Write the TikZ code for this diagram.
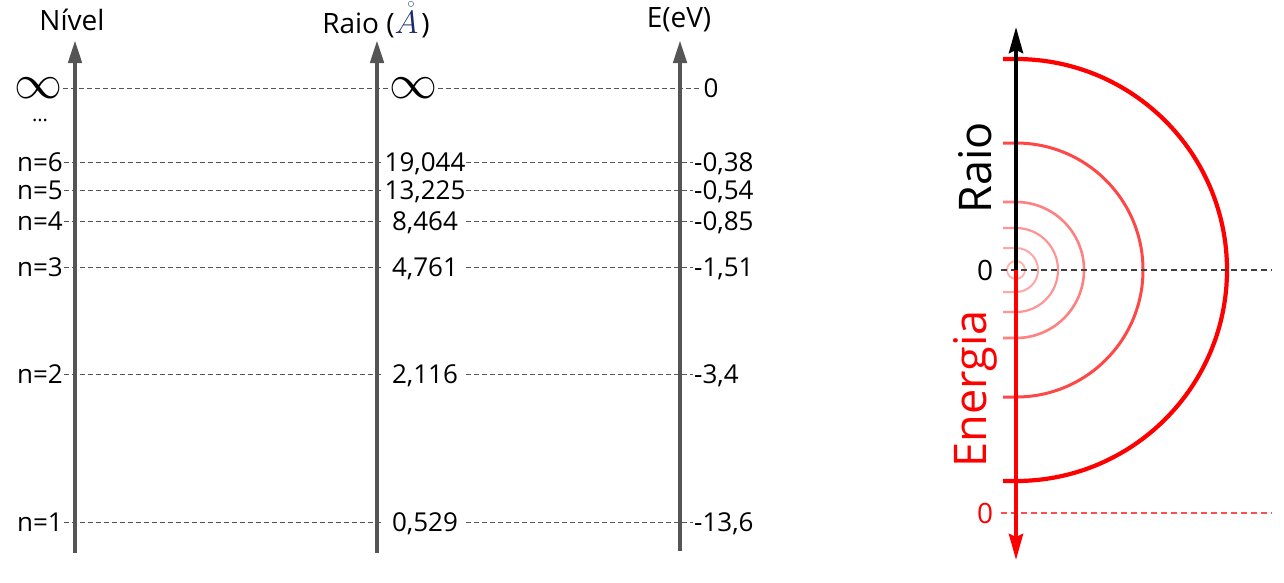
\documentclass[tikz,border=0pt]{standalone}
\usepackage{fontspec}
\setmainfont{Open Sans}
\usetikzlibrary{arrows.meta}
\definecolor{cinza}{HTML}{555555}
\definecolor{azulA}{HTML}{1A2A6E}
\newcommand{\infgrande}{\scalebox{4.8}{$\infty$}}
\begin{document}
\begin{tikzpicture}[x=1pt, y=-1pt, >=Stealth,
	eixo/.style={line width=4.5pt, color=cinza, -{Triangle[length=23pt, width=13pt]}},
	nivel/.style={dash pattern=on 5pt off 3pt, line width=1pt, color=cinza},
	rotulo/.style={font=\fontsize{26}{30}\selectfont, text height=18.5pt, text depth=0pt, inner sep=1pt},
	valor/.style={rotulo, minimum width=82pt, inner sep=0pt},
	titulo/.style={font=\fontsize{28}{32}\selectfont},
	grande/.style={font=\fontsize{45}{50}\selectfont, rotate=90}]
	\useasboundingbox (0,0) rectangle (1284,582);

	% Títulos das colunas
	\node[titulo] (tnivel) at (72,20) {Nível};
	\node[titulo] (traio) at (376,20) {Raio (\textcolor{azulA}{\scalebox{1.3}{$\mathring{A}$}}\kern3pt)};
	\node[titulo] (tenergia) at (679,20) {E(eV)};

	% Linha do infinito
	\node[inner sep=1pt] (ninf) at (38,88) {\infgrande};
	\node[inner sep=1pt] (rinf) at (413,88) {\infgrande};
	\node[rotulo, inner sep=3pt] (einf) at (711,88) {0};
	\draw[nivel] (ninf) -- (rinf);
	\draw[nivel] (rinf) -- (einf);
	\node[font=\fontsize{20}{24}\selectfont] (reticencias) at (40,120) {...};

	% Níveis n = 6 ... 1: raio e energia
	\foreach \y/\n/\r/\e in {162/6/19{,}044/-0{,}38, 190/5/13{,}225/-0{,}54,
		221/4/8{,}464/-0{,}85, 267/3/4{,}761/-1{,}51,
		374/2/2{,}116/-3{,}4, 522/1/0{,}529/-13{,}6}{
		\node[rotulo, anchor=east] (n\n) at (64,\y) {n=\n};
		\node[valor] (r\n) at (425,\y) {\r};
		\node[rotulo, anchor=west] (e\n) at (693,\y) {\e};
		\draw[nivel] (n\n) -- (r\n);
		\draw[nivel] (r\n) -- (e\n);
	}

	% Eixos verticais
	\coordinate (bnivel) at (75,553);  \coordinate (cnivel) at (75,40);
	\coordinate (braio) at (377,553);  \coordinate (craio) at (377,40);
	\coordinate (benergia) at (680,551); \coordinate (cenergia) at (680,40);
	\draw[eixo] (bnivel) -- (cnivel);
	\draw[eixo] (braio) -- (craio);
	\draw[eixo] (benergia) -- (cenergia);

	% Órbitas (semicírculos)
	\coordinate (centro) at (1016,270);
	\foreach \r/\w/\c in {211/4.2pt/100, 127/3pt/72, 68/2.6pt/50, 42/2.2pt/42, 22/2pt/35}{
		\draw[line width=\w, color=red!\c] (1003,{270-\r}) -- (1016,{270-\r})
			arc[start angle=-90, end angle=90, radius=\r] -- (1003,{270+\r});
	}
	\draw[line width=1.8pt, color=red!30] (centro) circle[radius=9];

	% Linhas de referência do zero
	\node[font=\fontsize{28}{30}\selectfont, inner sep=0pt] (zraio) at (985,270) {0};
	\node[font=\fontsize{28}{30}\selectfont, inner sep=0pt, text=red] (zenergia) at (985,513) {0};
	\coordinate (fraio) at (1272,270);
	\coordinate (fenergia) at (1272,513);
	\draw[dash pattern=on 6pt off 4pt, line width=1.5pt, color=black!75] ([xshift=8pt]zraio.east) -- (fraio);
	\draw[dash pattern=on 6pt off 4pt, line width=1.5pt, color=red!70] ([xshift=8pt]zenergia.east) -- (fenergia);

	% Eixo do raio (para cima) e da energia (para baixo)
	\coordinate (topo) at (1016,27);
	\coordinate (fundo) at (1016,560);
	\draw[line width=4pt, -{Stealth[length=26pt, width=14pt, inset=3pt]}] (centro) -- (topo);
	\draw[line width=4pt, color=red, -{Stealth[length=26pt, width=14pt, inset=3pt]}] (centro) -- (fundo);
	\node[grande] (lraio) at (975,168) {Raio};
	\node[grande, text=red] (lenergia) at (975,389) {Energia};
\end{tikzpicture}
\end{document}
